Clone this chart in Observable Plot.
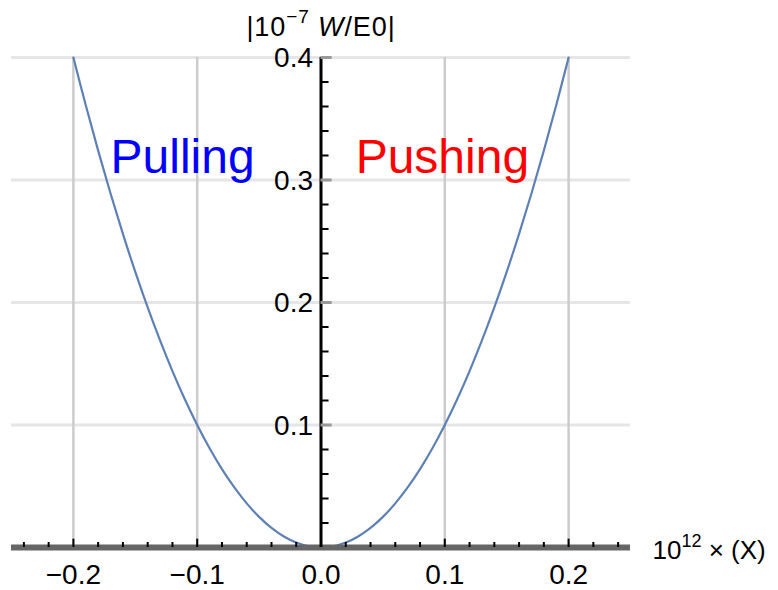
<!DOCTYPE html>
<html>
<head>
<meta charset="utf-8">
<script src="https://cdn.jsdelivr.net/npm/d3@7"></script>
<script src="https://cdn.jsdelivr.net/npm/@observablehq/plot@0.6"></script>
<style>
  html, body { margin: 0; padding: 0; background: #fff; }
</style>
</head>
<body>
<div id="chart"></div>
<script>
// Curve samples (x in 10^12 units, y in |10^-7 W/E0|)
const curveX = [-0.20,-0.19,-0.18,-0.17,-0.16,-0.15,-0.14,-0.13,-0.12,-0.11,-0.10,-0.09,-0.08,-0.07,-0.06,-0.05,-0.04,-0.03,-0.02,-0.01,0.00,
                 0.01,0.02,0.03,0.04,0.05,0.06,0.07,0.08,0.09,0.10,0.11,0.12,0.13,0.14,0.15,0.16,0.17,0.18,0.19,0.20];
const curveY = [0.400,0.361,0.324,0.289,0.256,0.225,0.196,0.169,0.144,0.121,0.100,0.081,0.064,0.049,0.036,0.025,0.016,0.009,0.004,0.001,0.000,
                0.001,0.004,0.009,0.016,0.025,0.036,0.049,0.064,0.081,0.100,0.121,0.144,0.169,0.196,0.225,0.256,0.289,0.324,0.361,0.400];

// Tick values
const xMajor = [-0.2, -0.1, 0.0, 0.1, 0.2];
const xMajorLabels = ["\u22120.2", "\u22120.1", "0.0", "0.1", "0.2"];
const xMinor = [-0.24,-0.22,-0.18,-0.16,-0.14,-0.12,-0.08,-0.06,-0.04,-0.02,0.02,0.04,0.06,0.08,0.12,0.14,0.16,0.18,0.22,0.24];
const xGrid = [-0.2, -0.1, 0.1, 0.2];
const yMajor = [0.1, 0.2, 0.3, 0.4];
const yMajorLabels = ["0.1", "0.2", "0.3", "0.4"];
const yMinor = [0.02,0.04,0.06,0.08,0.12,0.14,0.16,0.18,0.22,0.24,0.26,0.28,0.32,0.34,0.36,0.38];

// Annotations
const annotations = [
  {label: "Pulling", x: -0.170, y: 0.306, color: "#0000ff"},
  {label: "Pushing", x: 0.028, y: 0.306, color: "#ff0000"}
];
const yTitle = "|10\u22127 W/E0|";
const xTitle = "10\u00b9\u00b2 \u00d7 (X)";

const curve = curveX.map((x, i) => ({x, y: curveY[i]}));
const FONT = "Liberation Sans, Arial, Helvetica, sans-serif";

const chart = Plot.plot({
  width: 778,
  height: 590,
  marginLeft: 11,
  marginRight: 148,
  marginTop: 57,
  marginBottom: 43,
  x: {domain: [-0.25, 0.25], axis: null},
  y: {domain: [0, 0.4], axis: null},
  style: {fontFamily: FONT, background: "#fff", overflow: "visible"},
  marks: [
    // grid
    Plot.ruleY(yMajor, {stroke: "#e6e6e6", strokeWidth: 3}),
    Plot.ruleX(xGrid, {y1: 0, y2: 0.4, stroke: "#cccccc", strokeWidth: 2.5}),
    // curve
    Plot.line(curve, {x: "x", y: "y", stroke: "#5e81b5", strokeWidth: 2.2, curve: "catmull-rom"}),
    // x axis line
    Plot.ruleY([0], {stroke: "#666666", strokeWidth: 6}),
    // x ticks
    Plot.ruleX(xMinor, {x: d => d, y1: 0, y2: 0.0041, stroke: "#000", strokeWidth: 2}),
    Plot.ruleX(xMajor, {x: d => d, y1: 0, y2: 0.0068, stroke: "#000", strokeWidth: 2}),
    // y axis line
    Plot.ruleX([0], {y1: 0, y2: 0.4, stroke: "#000", strokeWidth: 3}),
    // y ticks
    Plot.ruleY(yMinor, {y: d => d, x1: 0, x2: 0.0065, stroke: "#000", strokeWidth: 2}),
    Plot.ruleY(yMajor, {y: d => d, x1: 0, x2: 0.009, stroke: "#999", strokeWidth: 3}),
    // tick labels
    Plot.text(xMajor, {x: d => d, y: 0, text: (d, i) => xMajorLabels[i], dy: 36, lineAnchor: "bottom",
      fontSize: 28, fill: "#000"}),
    Plot.text(yMajor, {x: 0, y: d => d, text: (d, i) => yMajorLabels[i], dx: -8, dy: 1, textAnchor: "end",
      lineAnchor: "middle", fontSize: 28, fill: "#000"}),
    // axis titles
    Plot.text([yTitle], {x: 0, y: 0.4, text: d => d, dy: -22, lineAnchor: "bottom", fontSize: 27, fill: "#000"}),
    Plot.text([xTitle], {x: 0.25, y: 0, text: d => d, dx: 22, dy: 11, textAnchor: "start", lineAnchor: "bottom",
      fontSize: 26, fill: "#000"}),
    // annotations
    Plot.text(annotations, {x: "x", y: "y", text: "label", fill: "color", textAnchor: "start", lineAnchor: "bottom",
      fontSize: 48})
  ]
});

document.getElementById("chart").appendChild(chart);

// Rich formatting (superscripts, italic) of the axis titles
function richText(str, parts, spacing) {
  d3.select(chart).selectAll("text").filter(function () { return this.textContent === str; })
    .each(function () {
      const t = d3.select(this);
      t.text(null);
      if (spacing) t.attr("letter-spacing", spacing);
      let shift = 0;
      parts.forEach(p => {
        const ts = t.append("tspan").text(p.t);
        if (p.size) ts.attr("font-size", p.size);
        if (p.italic) ts.attr("font-style", "italic");
        const s = p.shift || 0;
        if (s !== shift) { ts.attr("dy", shift - s); shift = s; }
      });
    });
}
richText(yTitle, [
  {t: "|10"},
  {t: "\u22127", size: 19, shift: 13},
  {t: " "},
  {t: "W", italic: true},
  {t: "/E0|"}
], "0.9px");
richText(xTitle, [
  {t: "10"},
  {t: "12", size: 18, shift: 12},
  {t: " \u00d7 (X)"}
], null);
</script>
</body>
</html>
